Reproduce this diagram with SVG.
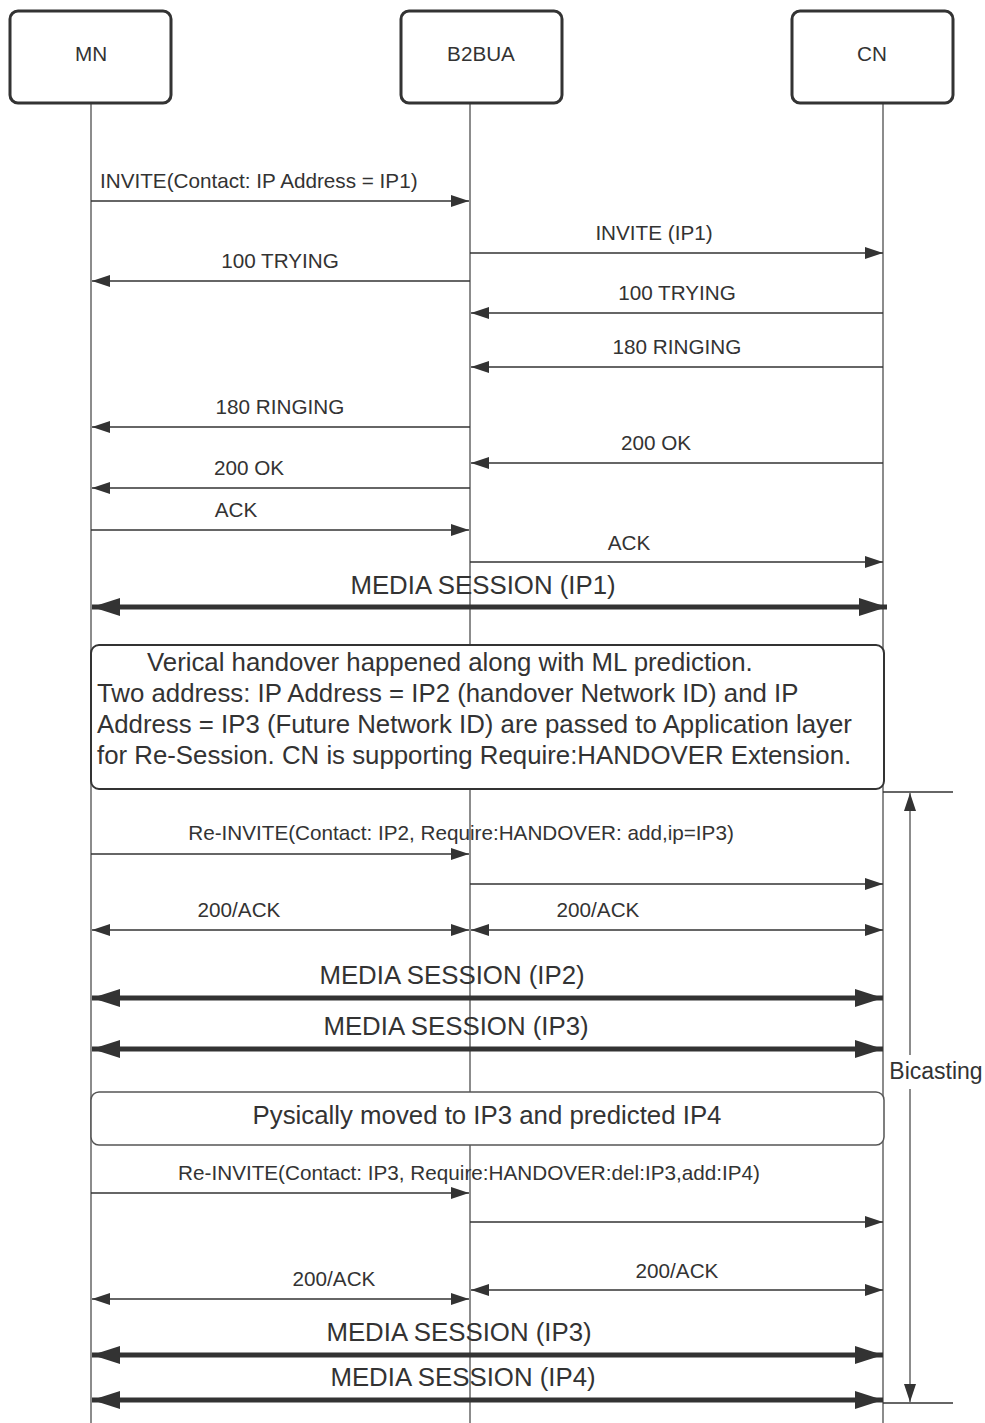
<svg xmlns="http://www.w3.org/2000/svg" width="985" height="1423" viewBox="0 0 985 1423">
<style>
.box{fill:#fff;stroke:#333;stroke-width:3}
.note{fill:#fff;stroke:#333;stroke-width:2}
.life{stroke:#666;stroke-width:1.5;fill:none}
.msg{stroke:#333;stroke-width:1.3;fill:none}
.thick{stroke:#333;stroke-width:5;fill:none}
.t{font-family:"Liberation Sans",Arial,sans-serif;font-size:20.7px;fill:#333}
.b{font-family:"Liberation Sans",Arial,sans-serif;font-size:25.8px;fill:#333}
.c{text-anchor:middle}
</style>
<defs>
<marker id="ah" markerUnits="userSpaceOnUse" markerWidth="18" markerHeight="12" refX="18" refY="6" orient="auto-start-reverse" viewBox="0 0 18 12"><path d="M0,0 L18,6 L0,12 z" fill="#333"/></marker>
<marker id="ahb" markerUnits="userSpaceOnUse" markerWidth="28" markerHeight="18" refX="28" refY="9" orient="auto-start-reverse" viewBox="0 0 28 18"><path d="M0,0 L28,9 L0,18 z" fill="#333"/></marker>
</defs>
<g id="lifelines">
<line class="life" x1="91" y1="103" x2="91" y2="1423"/>
<line class="life" x1="470" y1="103" x2="470" y2="1423"/>
<line class="life" x1="883" y1="103" x2="883" y2="1423"/>
</g>
<g id="MN"><rect class="box" x="10" y="11" width="161" height="92" rx="8"/><text class="t c" x="91" y="61">MN</text></g>
<g id="B2BUA"><rect class="box" x="401" y="11" width="161" height="92" rx="8"/><text class="t c" x="481" y="61">B2BUA</text></g>
<g id="CN"><rect class="box" x="792" y="11" width="161" height="92" rx="8"/><text class="t c" x="872" y="61">CN</text></g>
<g id="connectors">
<line class="msg" x1="91" y1="201" x2="469" y2="201" marker-end="url(#ah)"/>
<line class="msg" x1="470" y1="253" x2="883" y2="253" marker-end="url(#ah)"/>
<line class="msg" x1="470" y1="281" x2="92" y2="281" marker-end="url(#ah)"/>
<line class="msg" x1="883" y1="313" x2="471" y2="313" marker-end="url(#ah)"/>
<line class="msg" x1="883" y1="367" x2="471" y2="367" marker-end="url(#ah)"/>
<line class="msg" x1="470" y1="427" x2="92" y2="427" marker-end="url(#ah)"/>
<line class="msg" x1="883" y1="463" x2="471" y2="463" marker-end="url(#ah)"/>
<line class="msg" x1="470" y1="488" x2="92" y2="488" marker-end="url(#ah)"/>
<line class="msg" x1="91" y1="530" x2="469" y2="530" marker-end="url(#ah)"/>
<line class="msg" x1="470" y1="562" x2="883" y2="562" marker-end="url(#ah)"/>
<line class="thick" x1="92" y1="607" x2="887" y2="607" marker-start="url(#ahb)" marker-end="url(#ahb)"/>
<line class="msg" x1="91" y1="854" x2="469" y2="854" marker-end="url(#ah)"/>
<line class="msg" x1="470" y1="884" x2="883" y2="884" marker-end="url(#ah)"/>
<line class="msg" x1="92" y1="930" x2="469" y2="930" marker-start="url(#ah)" marker-end="url(#ah)"/>
<line class="msg" x1="471" y1="930" x2="883" y2="930" marker-start="url(#ah)" marker-end="url(#ah)"/>
<line class="thick" x1="92" y1="998" x2="883" y2="998" marker-start="url(#ahb)" marker-end="url(#ahb)"/>
<line class="thick" x1="92" y1="1049" x2="883" y2="1049" marker-start="url(#ahb)" marker-end="url(#ahb)"/>
<line class="msg" x1="91" y1="1193" x2="469" y2="1193" marker-end="url(#ah)"/>
<line class="msg" x1="470" y1="1222" x2="883" y2="1222" marker-end="url(#ah)"/>
<line class="msg" x1="92" y1="1299" x2="469" y2="1299" marker-start="url(#ah)" marker-end="url(#ah)"/>
<line class="msg" x1="471" y1="1290" x2="883" y2="1290" marker-start="url(#ah)" marker-end="url(#ah)"/>
<line class="thick" x1="92" y1="1355" x2="883" y2="1355" marker-start="url(#ahb)" marker-end="url(#ahb)"/>
<line class="thick" x1="92" y1="1400" x2="883" y2="1400" marker-start="url(#ahb)" marker-end="url(#ahb)"/>
<line class="msg" x1="883" y1="792" x2="953" y2="792"/>
<line class="msg" x1="883" y1="1403" x2="953" y2="1403"/>
<line class="life" x1="910" y1="793" x2="910" y2="1055" marker-start="url(#ah)"/>
<line class="life" x1="910" y1="1089" x2="910" y2="1402" marker-end="url(#ah)"/>
</g>
<g id="labels">
<text class="t" x="100" y="188">INVITE(Contact: IP Address = IP1)</text>
<text class="t c" x="654" y="240">INVITE (IP1)</text>
<text class="t c" x="280" y="268">100 TRYING</text>
<text class="t c" x="677" y="300">100 TRYING</text>
<text class="t c" x="677" y="354">180 RINGING</text>
<text class="t c" x="280" y="414">180 RINGING</text>
<text class="t c" x="656" y="450">200 OK</text>
<text class="t c" x="249" y="475">200 OK</text>
<text class="t c" x="236" y="517">ACK</text>
<text class="t c" x="629" y="550">ACK</text>
<text class="b c" x="483" y="594">MEDIA SESSION (IP1)</text>
<text class="t c" x="461" y="840">Re-INVITE(Contact: IP2, Require:HANDOVER: add,ip=IP3)</text>
<text class="t c" x="239" y="917">200/ACK</text>
<text class="t c" x="598" y="917">200/ACK</text>
<text class="b c" x="452" y="984">MEDIA SESSION (IP2)</text>
<text class="b c" x="456" y="1035">MEDIA SESSION (IP3)</text>
<text class="t c" x="936" y="1079" style="font-size:23px">Bicasting</text>
<text class="t c" x="469" y="1180">Re-INVITE(Contact: IP3, Require:HANDOVER:del:IP3,add:IP4)</text>
<text class="t c" x="334" y="1286">200/ACK</text>
<text class="t c" x="677" y="1278">200/ACK</text>
<text class="b c" x="459" y="1341">MEDIA SESSION (IP3)</text>
<text class="b c" x="463" y="1386">MEDIA SESSION (IP4)</text>
</g>
<g id="note1">
<rect class="note" x="91" y="645" width="793" height="144" rx="8"/>
<text class="b" x="147" y="671">Verical handover happened along with ML prediction.</text>
<text class="b" x="97" y="702">Two address: IP Address = IP2 (handover Network ID) and IP</text>
<text class="b" x="97" y="733">Address = IP3 (Future Network ID) are passed to Application layer</text>
<text class="b" x="97" y="764">for Re-Session. CN is supporting Require:HANDOVER Extension.</text>
</g>
<g id="note2">
<rect class="note" x="91" y="1092" width="793" height="53" rx="8" style="stroke:#555;stroke-width:1.5"/>
<text class="b c" x="487" y="1124">Pysically moved to IP3 and predicted IP4</text>
</g>
</svg>
